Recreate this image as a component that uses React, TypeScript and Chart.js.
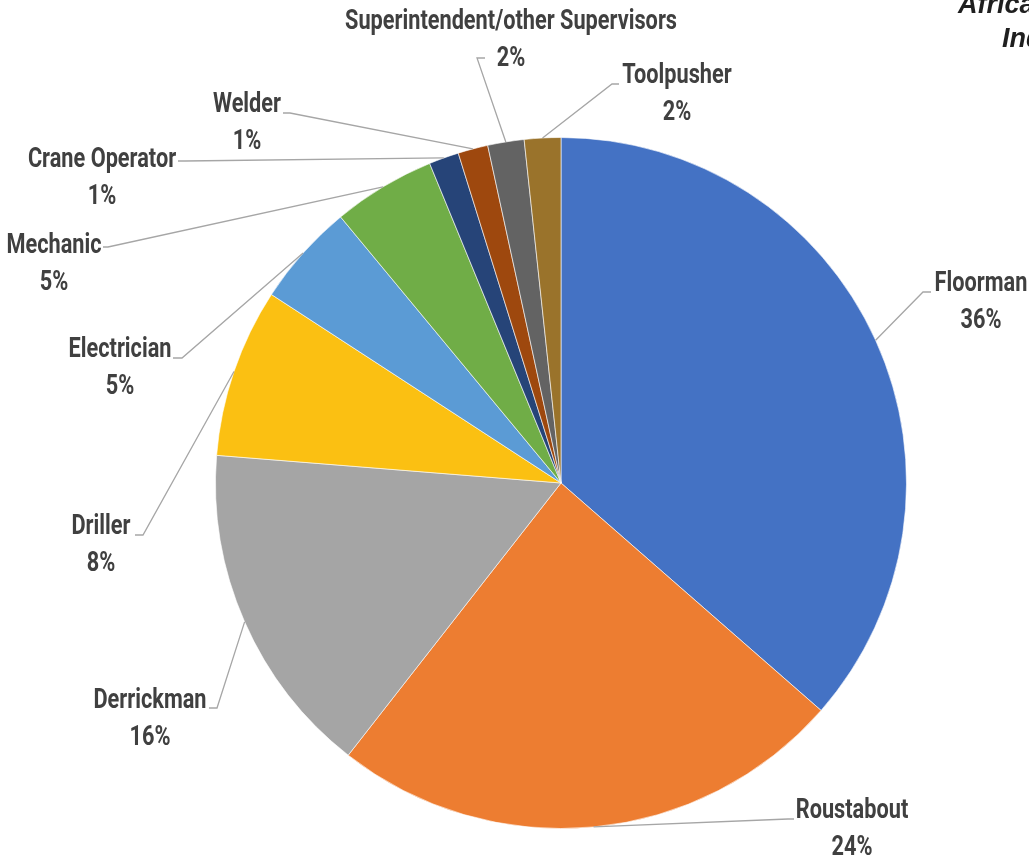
import React, { useEffect, useRef } from "react";
import { Chart, registerables } from "chart.js";

Chart.register(...registerables);

// ---- data ----
const categories = [
  "Floorman",
  "Roustabout",
  "Derrickman",
  "Driller",
  "Electrician",
  "Mechanic",
  "Crane Operator",
  "Welder",
  "Superintendent/other Supervisors",
  "Toolpusher",
];
const shares = [36.4, 24.1, 15.7, 7.9, 4.8, 4.8, 1.4, 1.4, 1.7, 1.7];
const sliceColors = [
  "#4472C4",
  "#ED7D31",
  "#A5A5A5",
  "#FBC012",
  "#5B9BD5",
  "#70AD47",
  "#264478",
  "#9E480E",
  "#636363",
  "#9A732B",
];
const titleLines = ["African", "Industry"];

// ---- label layout (canvas px): name-line centre/baseline, leader elbow and end ----
const labelLayout = [
  { x: 981, y: 291, elbow: [923, 292], end: [931, 292] },
  { x: 852, y: 818, elbow: [788, 819], end: [794, 819] },
  { x: 150, y: 708, elbow: [217, 708], end: [209, 708] },
  { x: 101, y: 534, elbow: [143, 535], end: [135, 535] },
  { x: 120, y: 357, elbow: [182, 358], end: [173, 358] },
  { x: 54, y: 253, elbow: [108, 247], end: [103, 247] },
  { x: 102, y: 167, elbow: [185, 161], end: [178, 161] },
  { x: 247, y: 112, elbow: [290, 113], end: [283, 113] },
  { x: 511, y: 29, elbow: [477, 58], end: [485, 58] },
  { x: 677, y: 83, elbow: [612, 84], end: [619, 84] },
];
const LINE_GAP = 37;
const LABEL_FONT = '700 27px Roboto, "Noto Sans", sans-serif';
const LONGEST_TARGET_WIDTH = 332;

const labelPlugin = {
  id: "outsideLabels",
  afterDraw(chart: any) {
    const ctx = chart.ctx as CanvasRenderingContext2D;
    const meta = chart.getDatasetMeta(0);
    const values = chart.data.datasets[0].data as number[];
    const total = values.reduce((a, b) => a + b, 0);

    ctx.save();
    ctx.font = LABEL_FONT;
    const longest = categories.reduce((a, b) => (b.length > a.length ? b : a), "");
    const sx = LONGEST_TARGET_WIDTH / ctx.measureText(longest).width;

    meta.data.forEach((arc: any, i: number) => {
      const p = arc.getProps(["x", "y", "startAngle", "endAngle", "outerRadius"], true);
      const mid = (p.startAngle + p.endAngle) / 2;
      const sx0 = p.x + Math.cos(mid) * p.outerRadius;
      const sy0 = p.y + Math.sin(mid) * p.outerRadius;
      const lay = labelLayout[i];

      ctx.strokeStyle = "#A6A6A6";
      ctx.lineWidth = 1.3;
      ctx.beginPath();
      ctx.moveTo(sx0, sy0);
      ctx.lineTo(lay.elbow[0], lay.elbow[1]);
      ctx.lineTo(lay.end[0], lay.end[1]);
      ctx.stroke();

      const pct = Math.round((values[i] / total) * 100) + "%";
      ctx.fillStyle = "#404040";
      ctx.textAlign = "center";
      ctx.textBaseline = "alphabetic";
      [categories[i], pct].forEach((t, k) => {
        ctx.save();
        ctx.translate(lay.x, lay.y + k * LINE_GAP);
        ctx.scale(sx, 1);
        ctx.fillText(t, 0, 0);
        ctx.restore();
      });
    });

    // partially visible title (clipped at canvas edge)
    ctx.font = 'italic 700 27px "Liberation Sans", Arial, sans-serif';
    ctx.fillStyle = "#1F1F1F";
    ctx.textAlign = "left";
    ctx.fillText(titleLines[0], 958, 13);
    ctx.fillText(titleLines[1], 1002, 47);
    ctx.restore();
  },
};

export default function App() {
  const ref = useRef<HTMLCanvasElement>(null);
  useEffect(() => {
    if (!ref.current) return;
    const chart = new Chart(ref.current, {
      type: "pie",
      data: {
        labels: categories,
        datasets: [
          {
            data: shares,
            backgroundColor: sliceColors,
            borderColor: "rgba(255,255,255,0.6)",
            borderWidth: 1,
          },
        ],
      },
      options: {
        responsive: false,
        animation: false,
        layout: { padding: { top: 137, bottom: 31, left: 215, right: 122 } },
        plugins: {
          legend: { display: false },
          tooltip: { enabled: false },
          title: { display: false },
        },
      },
      plugins: [labelPlugin],
    });
    return () => chart.destroy();
  }, []);
  return (
    <div style={{ position: "absolute", left: 0, top: 0, width: 1029, height: 860, background: "#fff" }}>
      <canvas ref={ref} width={1029} height={860} />
    </div>
  );
}
